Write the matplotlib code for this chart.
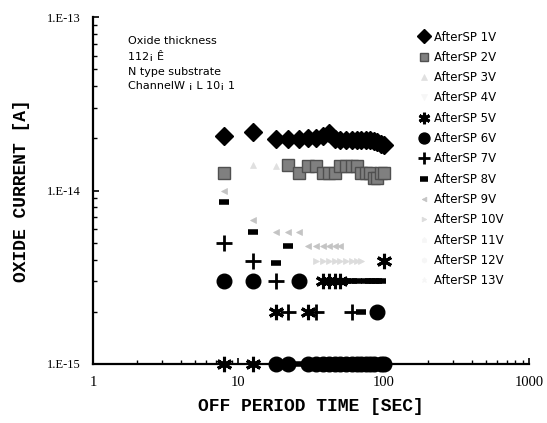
import numpy as np
import matplotlib
matplotlib.use("Agg")
import matplotlib.pyplot as plt
from matplotlib.ticker import LogLocator, NullFormatter

nan = np.nan

# ── data ──────────────────────────────────────────────────────────────────
off_time = [8, 12.5, 18, 22, 26, 30, 34, 38, 42, 46, 50,
            55, 60, 65, 70, 75, 80, 85, 90, 95, 100]

sp1v = [2.06e-14, 2.17e-14, 1.98e-14, 1.98e-14, 1.98e-14, 2.0e-14, 2.02e-14,
        2.05e-14, 2.15e-14, 1.98e-14, 1.96e-14, 1.96e-14, 1.96e-14, 1.96e-14,
        1.96e-14, 1.96e-14, 1.95e-14, 1.93e-14, 1.9e-14, 1.85e-14, 1.83e-14]
sp2v = [1.27e-14, nan, nan, 1.4e-14, 1.27e-14, 1.38e-14, 1.38e-14, 1.27e-14,
        1.27e-14, 1.27e-14, 1.38e-14, 1.38e-14, 1.38e-14, 1.38e-14, 1.27e-14,
        1.27e-14, 1.27e-14, 1.18e-14, 1.18e-14, 1.27e-14, 1.27e-14]
sp3v = [nan, 1.4e-14, 1.38e-14, nan, nan, 1e-15, 1e-15, 1e-15, 1e-15, 1e-15,
        1e-15, 1e-15, 1e-15, 1e-15, 1e-15, 1e-15, 1e-15, 1e-15, 1e-15, 1e-15, 1e-15]
sp4v = [nan, nan, nan, nan, nan, 1e-15, 1e-15, 1e-15, 1e-15, 1e-15,
        1e-15, 1e-15, 1e-15, 1e-15, 1e-15, 1e-15, 1e-15, 1e-15, 1e-15, 1e-15, 1e-15]
sp5v = [1e-15, 1e-15, 2e-15, nan, nan, 2e-15, nan, 3e-15, 3e-15, 3e-15, 3e-15,
        nan, nan, nan, nan, nan, nan, nan, nan, nan, 3.9e-15]
sp6v = [3e-15, 3e-15, 1e-15, 1e-15, 3e-15, 1e-15, 1e-15, 1e-15, 1e-15, 1e-15,
        1e-15, 1e-15, 1e-15, 1e-15, 1e-15, 1e-15, 1e-15, 1e-15, 2e-15, 1e-15, 1e-15]
sp7v = [5e-15, 3.9e-15, 3e-15, 2e-15, nan, nan, 2e-15, nan, nan, nan, nan,
        nan, 2e-15, nan, nan, nan, nan, nan, nan, nan, nan]
sp8v = [8.6e-15, 5.8e-15, 3.8e-15, 4.8e-15, 1e-15, 1e-15, 1e-15, 1e-15, 1e-15,
        1e-15, 3e-15, 3e-15, 3e-15, 3e-15, 2e-15, 3e-15, 3e-15, 3e-15, 3e-15,
        3e-15, nan]
sp9v = [1.0e-14, 6.8e-15, 5.8e-15, 5.8e-15, 5.8e-15, 4.8e-15, 4.8e-15, 4.8e-15,
        4.8e-15, 4.8e-15, 4.8e-15, nan, nan, nan, nan, nan, nan, nan, nan, nan, nan]
sp10v = [nan, nan, nan, nan, nan, nan, 3.9e-15, 3.9e-15, 3.9e-15, 3.9e-15,
         3.9e-15, 3.9e-15, 3.9e-15, 3.9e-15, 3.9e-15, 1e-15, 1e-15, 1e-15,
         1e-15, 1e-15, 1e-15]
sp11v = sp4v
sp12v = sp4v
sp13v = sp4v

series_labels = ["AfterSP %dV" % v for v in range(1, 14)]
series_values = [sp1v, sp2v, sp3v, sp4v, sp5v, sp6v, sp7v,
                 sp8v, sp9v, sp10v, sp11v, sp12v, sp13v]

# marker, size, face colour, edge width, zorder
styles = [
    ("D", 9, "black", 1, 4),
    ("s", 8, "#808080", 1, 3),
    ("^", 5, "#e0e0e0", 0.5, 2),
    ("v", 5, "#f6f6f6", 0.5, 1),
    ((6, 2, 0), 11, "black", 2.2, 4),
    ("o", 10.5, "black", 1, 4),
    ("+", 11, "black", 2.0, 4),
    ("_", 7, "black", 4.0, 4),
    ("<", 4.5, "#c4c4c4", 0.5, 2),
    (">", 4.5, "#dcdcdc", 0.5, 2),
    ("p", 5, "#f6f6f6", 0.5, 1),
    ("h", 5, "#f6f6f6", 0.5, 1),
    ("*", 5, "#f6f6f6", 0.5, 1),
]

fig = plt.figure(figsize=(5.47, 4.23), dpi=100)
ax = fig.add_axes([0.170, 0.1395, 0.798, 0.820])

for label, vals, (mk, ms, col, mew, z) in zip(series_labels, series_values, styles):
    if col == "black":
        ec = "black"
    elif col == "#808080":
        ec = "#505050"
    else:
        ec = col
    ax.plot(off_time, vals, linestyle="none", marker=mk, markersize=ms,
            color=col, markerfacecolor=col, markeredgecolor=ec,
            markeredgewidth=mew, label=label, zorder=z, clip_on=False)

ax.set_xscale("log")
ax.set_yscale("log")
ax.set_xlim(1, 1000)
ax.set_ylim(1e-15, 1e-13)

for side in ("top", "right"):
    ax.spines[side].set_visible(False)
for side in ("left", "bottom"):
    ax.spines[side].set_linewidth(1.6)

ax.set_xticks([1, 10, 100, 1000])
ax.set_xticklabels(["1", "10", "100", "1000"], family="Liberation Serif", fontsize=10.5)
ax.set_yticks([1e-15, 1e-14, 1e-13])
ax.set_yticklabels(["1.E-15", "1.E-14", "1.E-13"], family="Liberation Serif", fontsize=9)
ax.xaxis.set_minor_locator(LogLocator(base=10, subs=np.arange(2, 10)))
ax.yaxis.set_minor_locator(LogLocator(base=10, subs=np.arange(2, 10)))
ax.xaxis.set_minor_formatter(NullFormatter())
ax.yaxis.set_minor_formatter(NullFormatter())
ax.tick_params(which="major", direction="in", length=4, width=1.2, pad=9)
ax.tick_params(which="minor", direction="in", length=3, width=1)

ax.set_xlabel("OFF PERIOD TIME [SEC]", family="Liberation Mono", fontweight="bold",
              fontsize=13, labelpad=6)
ax.set_ylabel("OXIDE CURRENT [A]", family="Liberation Mono", fontweight="bold",
              fontsize=13, labelpad=12)

ax.text(0.08, 0.945, "Oxide thickness\n112¡ Ê\nN type substrate\nChannelW ¡ L 10¡ 1",
        transform=ax.transAxes, ha="left", va="top", fontsize=8,
        family="DejaVu Sans", linespacing=1.55)

leg = ax.legend(loc="upper left", bbox_to_anchor=(0.735, 0.975), frameon=False,
                fontsize=8.5, handlelength=1.0, handletextpad=0.3,
                labelspacing=0.62, markerscale=0.75, borderaxespad=0)

fig.savefig("out.png", dpi=100)
